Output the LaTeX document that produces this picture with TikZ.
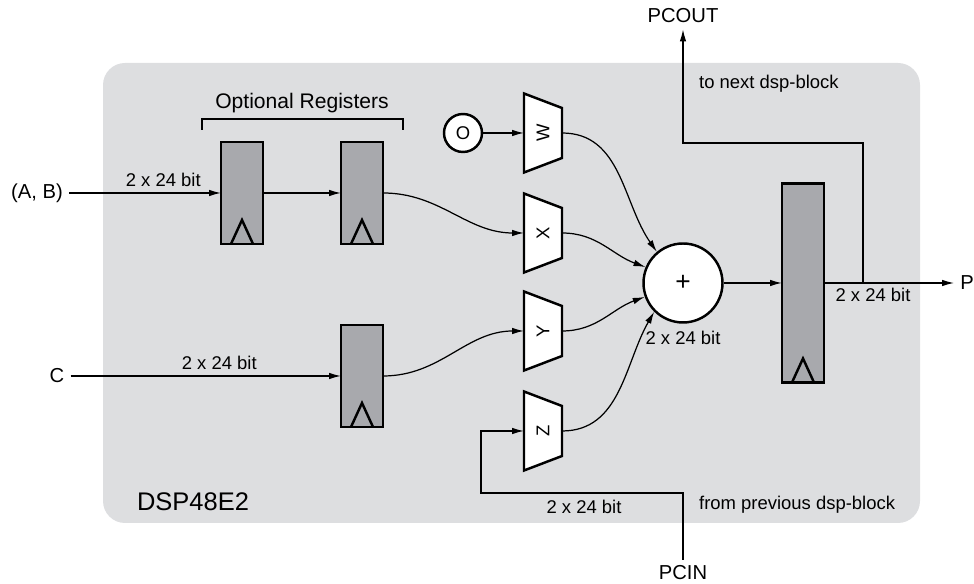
\documentclass[tikz,border=0pt]{standalone}
\usepackage{fontspec}
\setmainfont{Liberation Sans}
\usetikzlibrary{arrows.meta}

\definecolor{bggray}{RGB}{221,222,224}
\definecolor{regfill}{RGB}{168,169,173}

% clock mark at the bottom of a register
\newcommand{\clocktri}[1]{\draw[boxline] ([xshift=-0.22cm]#1.south) -- ([yshift=0.48cm]#1.south) -- ([xshift=0.22cm]#1.south);}
% multiplexer: name, x, y, letter
\newcommand{\muxnode}[4]{%
  \draw[boxline, fill=white] (#2-19,#3-39.5) -- (#2+19,#3-25) -- (#2+19,#3+25) -- (#2-19,#3+39.5) -- cycle;
  \node[muxbox] (#1) at (#2,#3) {\rotatebox{90}{#4}};}

\begin{document}
\begin{tikzpicture}[x=0.02cm, y=0.02cm, >={Latex[length=2.4mm,width=1.3mm]},
    wire/.style={line width=0.7pt},
    boxline/.style={line width=1.4pt},
    reg/.style={rectangle, draw, line width=1.4pt, fill=regfill, minimum width=0.84cm, inner sep=0pt, outer sep=0pt},
    muxbox/.style={rectangle, minimum width=0.76cm, minimum height=1.58cm, inner sep=0pt, outer sep=0pt, font=\fontsize{10.5}{12}\selectfont},
    txt/.style={font=\fontsize{10.5}{12}\selectfont},
    io/.style={font=\fontsize{11.5}{13}\selectfont}]
    \useasboundingbox (0,0) rectangle (974,584);

    % --- block ---
    \fill[bggray, rounded corners=0.44cm] (103,61) rectangle (920,521);
    \node[font=\fontsize{14.5}{17}\selectfont] (name) at (193,82) {DSP48E2};

    % --- registers ---
    \node[reg, minimum height=2.04cm] (r1) at (242,391) {};
    \node[reg, minimum height=2.04cm] (r2) at (362,391) {};
    \node[reg, minimum height=2.04cm] (r3) at (362,208) {};
    \node[reg, minimum height=3.98cm] (rP) at (803,301) {};
    \clocktri{r1}
    \clocktri{r2}
    \clocktri{r3}
    \clocktri{rP}
    \draw[wire] (202,454) -- (202,465) -- (403,465) -- (403,454);
    \node[font=\fontsize{12}{14}\selectfont] (opt) at (302,481) {Optional Registers};

    % --- multiplexers and adder ---
    \node[circle, draw, boxline, fill=white, minimum size=0.76cm, inner sep=0pt, txt] (zero) at (463,451) {O};
    \muxnode{mW}{543}{451}{W}
    \muxnode{mX}{543}{351}{X}
    \muxnode{mY}{543}{253}{Y}
    \muxnode{mZ}{543}{153}{Z}
    \node[circle, draw, boxline, fill=white, minimum size=1.58cm, inner sep=0pt, font=\fontsize{15}{15}\selectfont] (add) at (683,301) {+};
    \node[txt] (addw) at (683,246) {2 x 24 bit};

    % --- inputs ---
    \node[io] (ab) at (37,391) {(A, B)};
    \node[io] (c) at (57,208) {C};
    \draw[wire, ->] (ab) -- node[txt, above, pos=0.62] (abw) {2 x 24 bit} (r1);
    \draw[wire, ->] (r1) -- (r2);
    \draw[wire, ->] (r2.east) to[out=0, in=180] (mX.west);
    \draw[wire, ->] (c) -- node[txt, above, pos=0.55] (cw) {2 x 24 bit} (r3);
    \draw[wire, ->] (r3.east) to[out=0, in=180] (mY.west);
    \draw[wire, ->] (zero) -- (mW.west);

    % mux outputs into the adder
    \draw[wire, ->] (mW.east) to[out=0, in=125] (add.130);
    \draw[wire, ->] (mX.east) to[out=0, in=160] (add.157);
    \draw[wire, ->] (mY.east) to[out=0, in=200] (add.200);
    \draw[wire, ->] (mZ.east) to[out=0, in=240] (add.225);

    % --- output side ---
    \draw[wire, ->] (add) -- (rP);
    \node[io] (pout) at (967,301) {P};
    \draw[wire, ->] (rP) -- (pout);
    \node[txt] (pw) at (873,289) {2 x 24 bit};
    \coordinate (tap) at (863,301);
    \node[io] (pcout) at (683,568) {PCOUT};
    \draw[wire, ->] (tap) |- (683,441) -- (pcout);
    \node[txt, anchor=west] (nxt) at (693,500) {to next dsp-block};

    % --- cascade input ---
    \node[io] (pcin) at (683,11) {PCIN};
    \draw[wire, ->] (pcin) -- (683,91) -| (481,153) -- (mZ.west);
    \node[txt] (zw) at (584,77) {2 x 24 bit};
    \node[txt, anchor=west] (prev) at (693,79) {from previous dsp-block};
\end{tikzpicture}
\end{document}
